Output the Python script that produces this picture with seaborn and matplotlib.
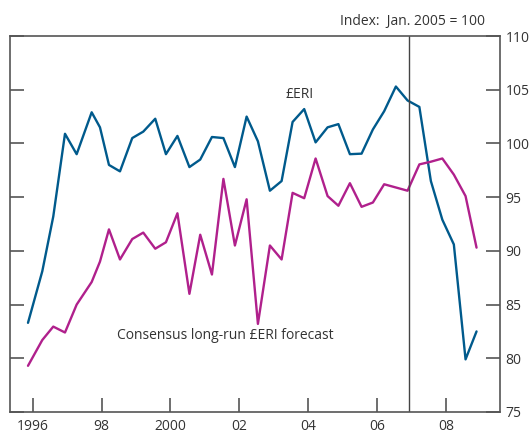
import numpy as np
import pandas as pd
import matplotlib
matplotlib.use("Agg")
import matplotlib.pyplot as plt
import seaborn as sns

# observation dates (decimal years) shared by both series
dates = [1995.864, 1996.279, 1996.598, 1996.938, 1997.277, 1997.713, 1997.954,
         1998.215, 1998.535, 1998.891, 1999.211, 1999.559, 1999.869, 2000.203,
         2000.551, 2000.865, 2001.205, 2001.538, 2001.872, 2002.212, 2002.540,
         2002.888, 2003.228, 2003.547, 2003.884, 2004.215, 2004.563, 2004.877,
         2005.211, 2005.550, 2005.878, 2006.206, 2006.546, 2006.885, 2007.228,
         2007.562, 2007.895, 2008.229, 2008.569, 2008.888]

eri = [83.3, 88.1, 93.2, 100.9, 99.0, 102.9, 101.5, 98.0, 97.4, 100.5,
       101.1, 102.3, 99.0, 100.7, 97.8, 98.5, 100.6, 100.5, 97.8, 102.5,
       100.2, 95.6, 96.5, 102.0, 103.2, 100.1, 101.5, 101.8, 99.0, 99.05,
       101.3, 103.0, 105.3, 104.0, 103.4, 96.5, 92.9, 90.6, 79.9, 82.5]

consensus = [79.3, 81.7, 82.95, 82.4, 85.0, 87.1, 89.0, 92.0, 89.2, 91.1,
             91.7, 90.2, 90.8, 93.5, 86.0, 91.5, 87.8, 96.7, 90.5, 94.8,
             83.2, 90.5, 89.2, 95.4, 94.9, 98.6, 95.1, 94.2, 96.3, 94.1,
             94.5, 96.2, 95.9, 95.6, 98.05, 98.3, 98.6, 97.1, 95.1, 90.3]

x_ticks = [1996, 1998, 2000, 2002, 2004, 2006, 2008]
x_labels = ["1996", "98", "2000", "02", "04", "06", "08"]
y_ticks = [75, 80, 85, 90, 95, 100, 105, 110]

sns.set_theme(style="white")
plt.rcParams["font.family"] = ["Open Sans", "DejaVu Sans"]

df = pd.DataFrame({"date": dates, "eri": eri, "consensus": consensus})

fig = plt.figure(figsize=(5.31, 4.34), dpi=100)
ax = fig.add_axes([0.0188, 0.0507, 0.9228, 0.8663])

sns.lineplot(data=df, x="date", y="eri", ax=ax, color="#005a8c", lw=1.7)
sns.lineplot(data=df, x="date", y="consensus", ax=ax, color="#b0208c", lw=1.7)
ax.axvline(2006.926, color="#444444", lw=1.0)

ax.set_xlim(1995.341, 2009.569)
ax.set_ylim(75, 110)
ax.set_xticks(x_ticks)
ax.set_xticklabels(x_labels)
ax.set_yticks(y_ticks)
ax.set_xlabel("")
ax.set_ylabel("")

ax.tick_params(axis="both", direction="in", length=10, width=1.2,
               color="#555555", labelsize=10, labelcolor="#333333")
ax.tick_params(axis="y", left=True, right=True, labelleft=False,
               labelright=True, pad=4)
ax.tick_params(axis="x", bottom=True, top=False, pad=5)
for s in ax.spines.values():
    s.set_color("#555555")
    s.set_linewidth(1.2)

ax.text(2003.75, 104.6, "£ERI", fontsize=10, color="#333333",
        ha="center", va="center")
ax.text(2001.6, 82.1, "Consensus long-run £ERI forecast", fontsize=10,
        color="#333333", ha="center", va="center")
fig.text(485 / 531, 1 - 21.7 / 434, "Index:  Jan. 2005 = 100", fontsize=10,
         color="#333333", ha="right", va="center")

fig.savefig("out.png", dpi=100)
